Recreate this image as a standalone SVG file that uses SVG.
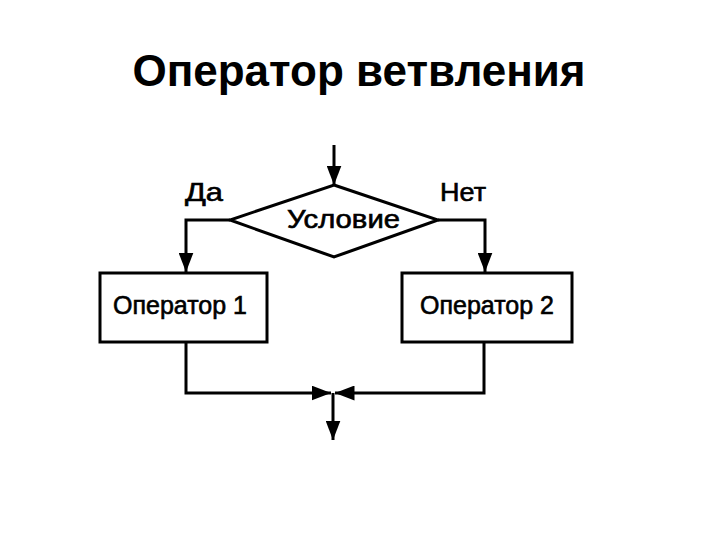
<svg xmlns="http://www.w3.org/2000/svg" width="720" height="540" viewBox="0 0 720 540">
<style>
.t{font-family:"Liberation Sans",Arial,sans-serif;fill:#000}
.title{font-size:44px;font-weight:bold}
.lbl{font-size:25px;stroke:#000;stroke-width:0.6}
.shape{fill:#fff;stroke:#000;stroke-width:3}
.ln{fill:none;stroke:#000;stroke-width:3}
</style>
<defs>
<marker id="ah" viewBox="0 0 10 10" refX="10" refY="5" markerWidth="6.5" markerHeight="5" orient="auto" markerUnits="strokeWidth" preserveAspectRatio="none">
<path d="M0,0 L10,5 L0,10 Z" fill="#000"/>
</marker>
</defs>
<rect width="720" height="540" fill="#fff"/>
<text class="t title" x="359" y="86" text-anchor="middle">Оператор ветвления</text>
<g id="connectors">
<line class="ln" x1="334" y1="145" x2="334" y2="185" marker-end="url(#ah)"/>
<polyline class="ln" points="230,220 186,220 186,272" marker-end="url(#ah)"/>
<polyline class="ln" points="438,220 485,220 485,272" marker-end="url(#ah)"/>
<polyline class="ln" points="186,342 186,393 331,393" marker-end="url(#ah)"/>
<polyline class="ln" points="484,342 484,393 335,393" marker-end="url(#ah)"/>
<line class="ln" x1="333" y1="393" x2="333" y2="440" marker-end="url(#ah)"/>
</g>
<g id="decision">
<polygon class="shape" points="334,185 438,220 334,257 230,220"/>
<text class="t lbl" x="287" y="228" textLength="113" lengthAdjust="spacingAndGlyphs">Условие</text>
</g>
<g id="label-yes"><text class="t lbl" x="185" y="201" textLength="38" lengthAdjust="spacingAndGlyphs">Да</text></g>
<g id="label-no"><text class="t lbl" x="440" y="201" textLength="46" lengthAdjust="spacingAndGlyphs">Нет</text></g>
<g id="op1">
<rect class="shape" x="100" y="273" width="167" height="69"/>
<text class="t lbl" x="180" y="314" text-anchor="middle">Оператор 1</text>
</g>
<g id="op2">
<rect class="shape" x="402" y="273" width="170" height="69"/>
<text class="t lbl" x="487" y="314" text-anchor="middle">Оператор 2</text>
</g>
</svg>
